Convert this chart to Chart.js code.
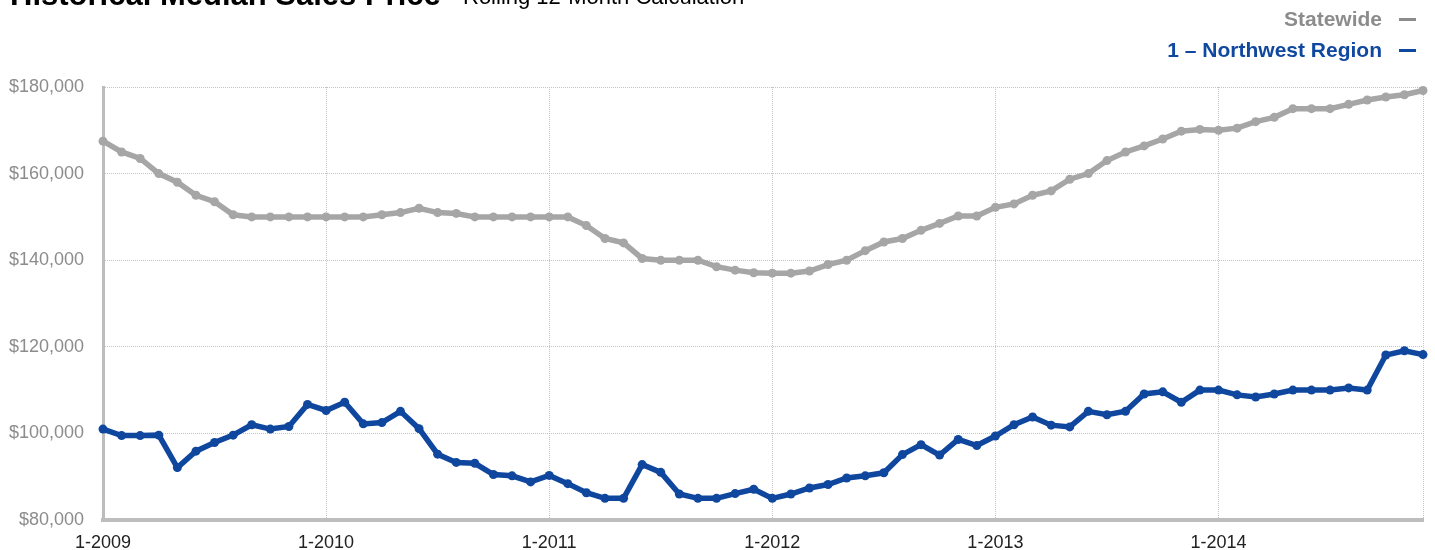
<!DOCTYPE html>
<html>
<head>
<meta charset="utf-8">
<title>Historical Median Sales Price</title>
<script src="https://cdn.jsdelivr.net/npm/chart.js@4.4.1/dist/chart.umd.min.js"></script>
<style>
    body { margin: 0; background: #fff; font-family: 'Liberation Sans', Arial, sans-serif; }
    #wrap { position: relative; width: 1435px; height: 550px; overflow: hidden; }
    #chart { position: absolute; left: 0; top: 0; }
    .title { position: absolute; left: 10px; top: -21px; font-size: 31px; line-height: 31px; font-weight: bold; color: #000; white-space: nowrap; }
    .subtitle { position: absolute; left: 463px; top: -14px; font-size: 22px; line-height: 22px; color: #000; white-space: nowrap; }
    .legend { position: absolute; right: 53px; font-size: 21px; line-height: 21px; font-weight: bold; white-space: nowrap; }
    .dash { position: absolute; left: 1399px; width: 17px; height: 3px; }
</style>
</head>
<body>
<div id="wrap">
    <canvas id="chart" width="1435" height="550"></canvas>
    <div class="title">Historical Median Sales Price</div>
    <div class="subtitle">Rolling 12-Month Calculation</div>
    <div class="legend" style="top: 8px; color: #8c8c8c;">Statewide</div>
    <div class="dash" style="top: 18px; background: #8c8c8c;"></div>
    <div class="legend" style="top: 39px; color: #10489f;">1 – Northwest Region</div>
    <div class="dash" style="top: 49px; background: #10489f;"></div>
</div>
<script>
// Year tick labels, one per January
const tickYears = ['1-2009', '1-2010', '1-2011', '1-2012', '1-2013', '1-2014'];

// Monthly categories 1-2009 .. 12-2014
const months = [];
tickYears.forEach(function(t) {
    const yr = t.split('-')[1];
    for (let m = 1; m <= 12; m++) months.push(m + '-' + yr);
});

// Statewide rolling 12-month median price
const statewide = [
    167500, 165000, 163500, 160000, 158000, 155000, 153500, 150500, 150000, 150000, 150000, 150000,
    150000, 150000, 150000, 150500, 151000, 152000, 151000, 150800, 150000, 150000, 150000, 150000,
    150000, 150000, 148000, 145000, 144000, 140400, 140000, 140000, 140000, 138500, 137700, 137100,
    137000, 137000, 137500, 139000, 140000, 142200, 144200, 145000, 146900, 148500, 150200, 150200,
    152200, 153000, 155000, 156000, 158700, 160000, 163000, 165000, 166400, 168000, 169800, 170200,
    170000, 170500, 172000, 173000, 175000, 175000, 175000, 176000, 177000, 177700, 178200, 179200
];

// 1 - Northwest Region rolling 12-month median price
const northwest = [
    101000, 99500, 99500, 99600, 92100, 95900, 97900, 99600, 102000, 101000, 101600, 106700,
    105300, 107200, 102200, 102500, 105100, 101100, 95200, 93300, 93100, 90500, 90200, 88800,
    90300, 88400, 86300, 85000, 85000, 92800, 91000, 86000, 85000, 85000, 86100, 87100,
    85000, 86000, 87400, 88200, 89700, 90200, 90900, 95100, 97400, 95000, 98600, 97200,
    99400, 102000, 103800, 101900, 101500, 105100, 104300, 105100, 109100, 109600, 107200, 110000,
    110000, 108900, 108400, 109100, 110000, 110000, 110000, 110500, 110000, 118100, 119100, 118200
];

const yMin = 80000;
const yMax = 180000;
const yStep = 20000;

Chart.defaults.font.family = "'Liberation Sans', Arial, sans-serif";

const gray = '#a6a6a6';
const blue = '#0f479e';

var ctx = document.getElementById('chart').getContext('2d');
var myChart = new Chart(ctx, {
    type: 'line',
    data: {
        labels: months,
        datasets: [{
            label: 'Statewide',
            data: statewide,
            borderColor: gray,
            backgroundColor: gray,
            pointBackgroundColor: gray,
            borderWidth: 5.5,
            pointRadius: 4.5,
            pointBorderWidth: 0,
            tension: 0,
            clip: false
        }, {
            label: '1 – Northwest Region',
            data: northwest,
            borderColor: blue,
            backgroundColor: blue,
            pointBackgroundColor: blue,
            borderWidth: 5.5,
            pointRadius: 4.5,
            pointBorderWidth: 0,
            tension: 0,
            clip: false
        }]
    },
    options: {
        responsive: false,
        animation: false,
        layout: { padding: { top: 87, right: 10, left: 0, bottom: 0 } },
        plugins: {
            legend: { display: false },
            title: { display: false },
            tooltip: { enabled: false }
        },
        scales: {
            x: {
                offset: false,
                afterFit: function(axis) { axis.height = 30; },
                afterBuildTicks: function(axis) {
                    // a tick each January plus the last month for the right edge
                    const idx = [];
                    for (let i = 0; i < months.length; i += 12) idx.push(i);
                    idx.push(months.length - 1);
                    axis.ticks = idx.map(function(v) { return { value: v }; });
                },
                ticks: {
                    autoSkip: false,
                    maxRotation: 0,
                    padding: 12,
                    color: '#222',
                    font: { size: 18 },
                    callback: function(value) {
                        return value % 12 === 0 ? tickYears[value / 12] : '';
                    }
                },
                grid: { color: '#c4c4c4', lineWidth: 1, drawTicks: false },
                border: { color: '#bdbdbd', width: 4, dash: [1, 1] }
            },
            y: {
                min: yMin,
                max: yMax,
                afterFit: function(axis) { axis.width = 103; },
                ticks: {
                    stepSize: yStep,
                    padding: 19,
                    color: '#8c8c8c',
                    font: { size: 18 },
                    callback: function(value) {
                        return '$' + value.toLocaleString('en-US');
                    }
                },
                grid: { color: '#c4c4c4', lineWidth: 1, drawTicks: false },
                border: { color: '#bdbdbd', width: 3, dash: [1, 1] }
            }
        }
    }
});
</script>
</body>
</html>
